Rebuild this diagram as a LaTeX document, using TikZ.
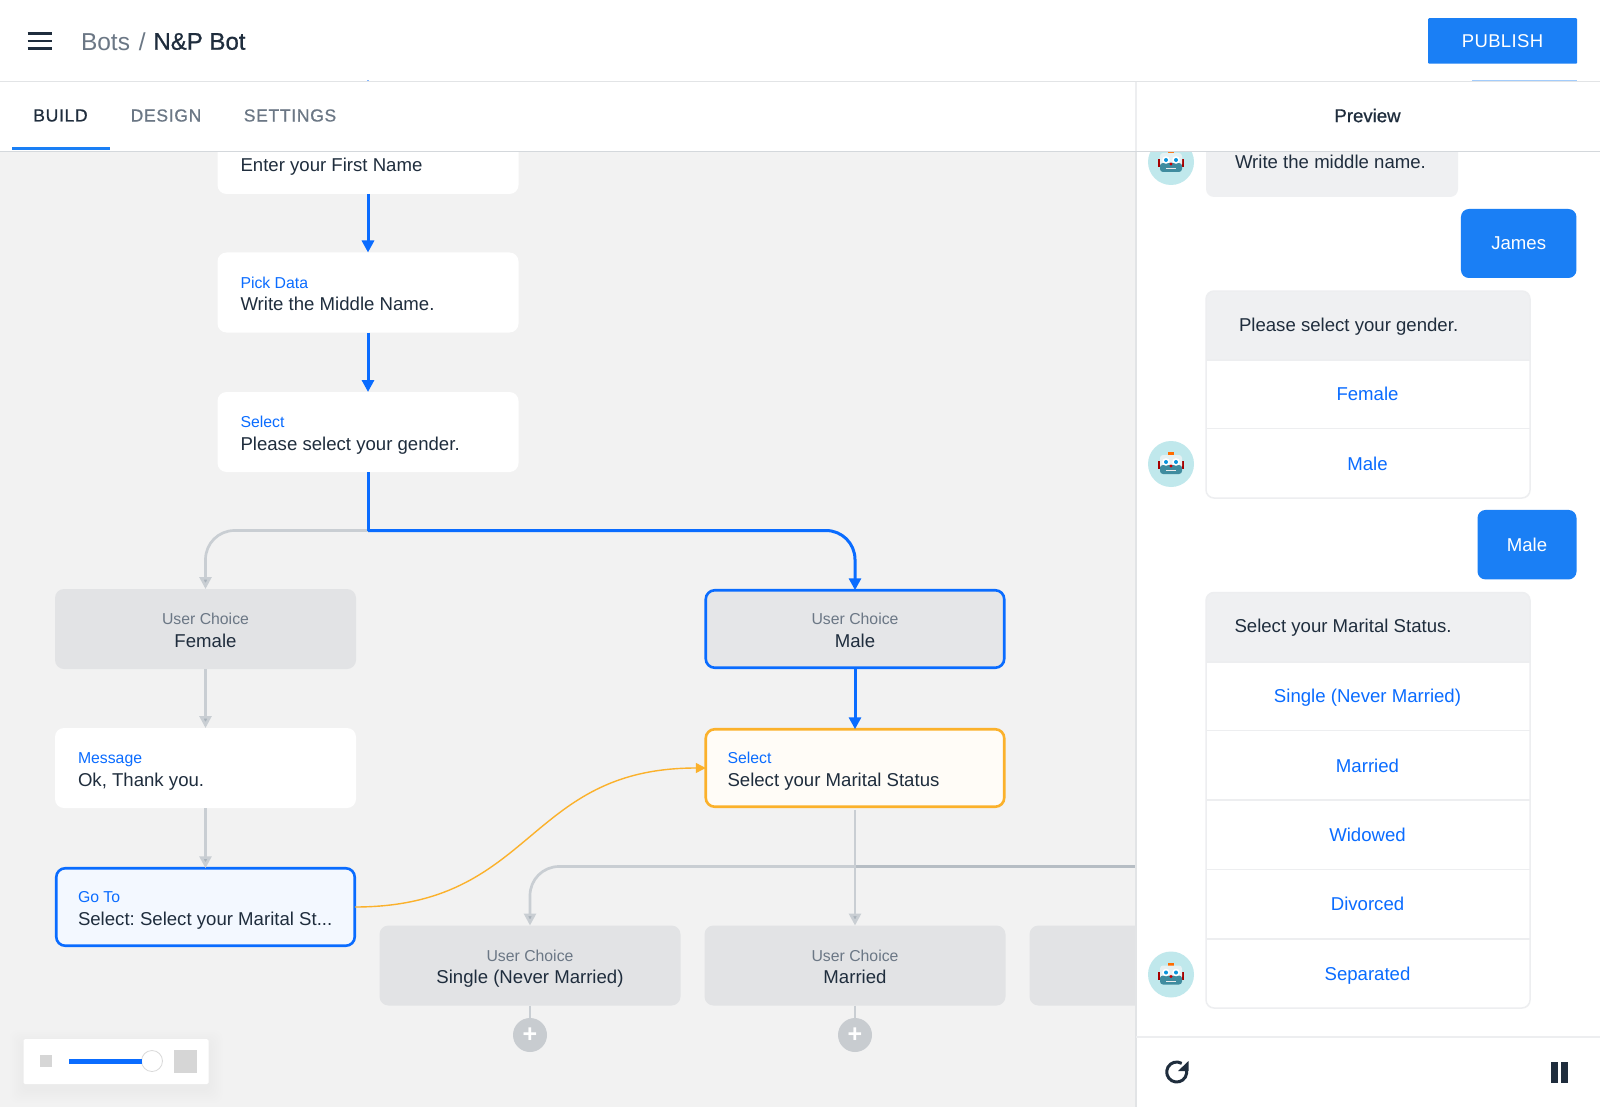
\documentclass[tikz,border=0pt]{standalone}
\usepackage{fontspec}
\setmainfont{Liberation Sans}
\usetikzlibrary{arrows.meta}
\definecolor{inkdark}{HTML}{1F2D3D}
\definecolor{inkgray}{HTML}{6B7785}
\definecolor{flowblue}{HTML}{0A6CFF}
\definecolor{btnblue}{HTML}{1A7FF5}
\definecolor{flowamber}{HTML}{FBB12B}
\definecolor{edgegray}{HTML}{C9CED3}
\definecolor{tipgray}{HTML}{A9B2BA}
\definecolor{edgedark}{HTML}{B6BDC4}
\definecolor{canvasgray}{HTML}{F2F2F2}
\definecolor{choicegray}{HTML}{E2E3E5}
\definecolor{rulegray}{HTML}{E2E4E6}
\definecolor{cardrule}{HTML}{EDEEF0}
\definecolor{bubblegray}{HTML}{EFF0F2}
\definecolor{avatarteal}{HTML}{C0E8EC}
\definecolor{plusgray}{HTML}{C8CCD0}
\definecolor{zoomgray}{HTML}{D6D6D6}
\definecolor{robothead}{HTML}{E6F1F3}
\definecolor{robotjaw}{HTML}{3F8C9F}
\newcommand{\kindtxt}[2]{{\fontsize{15.8}{22.5}\selectfont\color{#1}#2}}
\newcommand{\mediumfont}{\addfontfeature{FakeBold=0.8}}
\tikzset{robotface/.pic={
	\fill [orange!85!red] (-3,-12) rectangle (3,-7);
	\fill [red!65!black] (-13,-3) rectangle (13,5);
	\fill [rounded corners=3pt,robothead] (-11,-9) rectangle (11,5);
	\fill [rounded corners=3pt,robotjaw] (-11,1) rectangle (11,10);
	\fill [white] (-5,-2) circle (3.8);
	\fill [white] (5,-2) circle (3.8);
	\fill [cyan!80!blue] (-5,-2) circle (2);
	\fill [cyan!80!blue] (5,-2) circle (2);
	\fill [red!80!black] (0,2) circle (1.6);
	\fill [black!8] (-5,6) rectangle (5,7.2);
}}
\frenchspacing
\begin{document}
\begin{tikzpicture}[x=1pt,y=-1pt]
	\tikzstyle{every node}+=[inner sep=0pt,outer sep=0pt,text=inkdark,font=\fontsize{18.6}{22.5}\selectfont]
	\tikzstyle{flowbox}=[rectangle,rounded corners=9pt,fill=white,minimum width=301pt,minimum height=80pt,text width=255pt,align=flush left,text height=19.1pt,text depth=27.5pt]
	\tikzstyle{choicebox}=[rectangle,rounded corners=9pt,fill=choicegray,minimum width=301pt,minimum height=80pt,text width=255pt,align=flush center,text height=19.1pt,text depth=27.5pt]
	\tikzstyle{blueedge}=[draw=flowblue,line width=3pt,-{Triangle[width=12pt,length=12pt,fill=flowblue]}]
	\tikzstyle{grayedge}=[draw=edgegray,line width=2.7pt,-{Triangle[width=12pt,length=12pt,fill=tipgray]}]
	\tikzstyle{plusdot}=[circle,fill=plusgray,minimum size=34pt,text=white,font=\fontsize{25}{25}\selectfont\bfseries]
	\tikzstyle{avatar}=[circle,fill=avatarteal,minimum size=46pt]
	\tikzstyle{paneltxt}=[text height=18pt,text depth=5pt]
	\tikzstyle{optlabel}=[paneltxt,text=flowblue]
	\tikzstyle{tablabel}=[font=\fontsize{17.5}{22}\selectfont\mediumfont\addfontfeature{LetterSpace=4}]
	\useasboundingbox (0,0) rectangle (1600,1107);
	\fill [canvasgray] (0,0) rectangle (1600,1107);
	% left column, top of the flow
	\node [flowbox,minimum height=57pt,text height=18pt,text depth=5pt] (firstname) at (368,165.5) {Enter your First Name};
	\node [flowbox] (pickdata) at (368,292.5) {\kindtxt{flowblue}{Pick Data}\\Write the Middle Name.};
	\node [flowbox] (gender) at (368,432) {\kindtxt{flowblue}{Select}\\Please select your gender.};
	\coordinate (genderjoin) at (368,530.5);
	% choices
	\node [choicebox] (female) at (205.5,629) {\kindtxt{inkgray}{User Choice}\\Female};
	\node [choicebox,draw=flowblue,line width=2.6pt,fill=choicegray!90!white,minimum width=298.5pt,minimum height=77.5pt] (male) at (855,629) {\kindtxt{inkgray}{User Choice}\\Male};
	\node [flowbox] (thanks) at (205.5,768) {\kindtxt{flowblue}{Message}\\Ok, Thank you.};
	\node [flowbox,draw=flowamber,line width=2.6pt,fill=flowamber!4,minimum width=298.5pt,minimum height=77.5pt] (marital) at (855,768) {\kindtxt{flowblue}{Select}\\Select your Marital Status};
	\node [flowbox,draw=flowblue,line width=2.6pt,fill=flowblue!5,minimum width=298.5pt,minimum height=77.5pt] (goto) at (205.5,907) {\kindtxt{flowblue}{Go To}\\Select: Select your Marital St...};
	\node [choicebox] (single) at (530,965.5) {\kindtxt{inkgray}{User Choice}\\Single (Never Married)};
	\node [choicebox] (married) at (855,965.5) {\kindtxt{inkgray}{User Choice}\\Married};
	\node [choicebox] (widowed) at (1180,965.5) {};
	\node [plusdot] (singleadd) at (530,1035) {+};
	\node [plusdot] (marriedadd) at (855,1035) {+};
	\coordinate (maritaljoin) at (855,866.5);
	\coordinate (canvasedge) at (1136,866.5);
	% connectors
	\draw [blueedge] (firstname.south) -- (pickdata.north);
	\draw [blueedge] (pickdata.south) -- (gender.north);
	\draw [grayedge,rounded corners=29pt] (genderjoin) -| (female.north);
	\draw [blueedge,-] (gender.south) -- (genderjoin);
	\draw [blueedge,rounded corners=29pt] (genderjoin) -| (male.north);
	\draw [blueedge] (male.south) -- (marital.north);
	\draw [grayedge] (female.south) -- (thanks.north);
	\draw [grayedge] (thanks.south) -- (goto.north);
	\draw [draw=flowamber,line width=1.4pt,-{Triangle[width=10pt,length=10pt,fill=flowamber]}] (goto.east) .. controls (535,907) and (525,768) .. (marital.west);
	\draw [draw=edgedark,line width=2.7pt] (maritaljoin) -- (canvasedge);
	\draw [grayedge,rounded corners=29pt] (maritaljoin) -| (single.north);
	\draw [grayedge,shorten <=3pt] (marital.south) -- (married.north);
	\draw [draw=edgegray,line width=2.7pt] (single.south) -- (singleadd.north);
	\draw [draw=edgegray,line width=2.7pt] (married.south) -- (marriedadd.north);
	% zoom control
	\foreach \spread in {2,4,...,14}
		\fill [black,opacity=0.005,rounded corners=8pt] (23.5-\spread,1039-\spread+5) rectangle (208.5+\spread,1084+\spread+5);
	\node [rectangle,rounded corners=1.5pt,fill=white,minimum width=185pt,minimum height=45pt] (zoombox) at (116,1061.5) {};
	\node [rectangle,fill=zoomgray,minimum size=12pt] (zoomsmall) at (46,1061) {};
	\node [rectangle,fill=zoomgray,minimum size=23pt] (zoomlarge) at (185,1061.5) {};
	\coordinate (trackstart) at (69,1061);
	\node [circle,draw=black!15,line width=0.8pt,fill=white,minimum size=21pt] (zoomknob) at (152,1061) {};
	\draw [draw=flowblue,line width=5pt] (trackstart) -- (zoomknob.west);
	% preview panel
	\fill [white] (1136,152) rectangle (1600,1107);
	\draw [rulegray,line width=1.2pt] (1136,152) -- (1136,1107);
	\node [avatar] (avatartop) at (1171,162) {};
	\pic at (avatartop) {robotface};
	\node [rectangle,rounded corners=8pt,fill=bubblegray,minimum width=252pt,minimum height=70pt] (bubblemiddle) at (1332,162) {};
	\node [paneltxt,anchor=west] (middletxt) at (1235,162.5) {Write the middle name.};
	\node [paneltxt,rectangle,rounded corners=8pt,fill=btnblue,minimum width=115.5pt,minimum height=69pt,text=white] (james) at (1518.7,243.5) {James};
	\node [paneltxt,rectangle,rounded corners=8pt,fill=btnblue,minimum width=99pt,minimum height=69.5pt,text=white] (malereply) at (1527,544.7) {Male};
	% gender card
	\begin{scope}
		\clip [rounded corners=8pt] (1206,291) rectangle (1530,498);
		\fill [bubblegray] (1206,291) rectangle (1530,360);
	\end{scope}
	\draw [cardrule,line width=1.5pt,rounded corners=8pt] (1206,291) rectangle (1530,498);
	\draw [cardrule,line width=1.5pt] (1206,360) -- (1530,360);
	\draw [cardrule,line width=1.5pt] (1206,428.6) -- (1530,428.6);
	\node [paneltxt,anchor=west] (gendertxt) at (1239,324.5) {Please select your gender.};
	\node [optlabel] (optfemale) at (1367.5,394) {Female};
	\node [optlabel] (optmale) at (1367.5,463.5) {Male};
	\node [avatar] (avatarmid) at (1171,464) {};
	\pic at (avatarmid) {robotface};
	% marital card
	\begin{scope}
		\clip [rounded corners=8pt] (1206,592.5) rectangle (1530,1008);
		\fill [bubblegray] (1206,592.5) rectangle (1530,662);
	\end{scope}
	\draw [cardrule,line width=1.5pt,rounded corners=8pt] (1206,592.5) rectangle (1530,1008);
	\foreach \sepy in {662,730.6,800,869.4,939}
		\draw [cardrule,line width=1.5pt] (1206,\sepy) -- (1530,\sepy);
	\node [paneltxt,anchor=west] (maritaltxt) at (1234.5,625.5) {Select your Marital Status.};
	\node [optlabel] (optsingle) at (1367.5,695.5) {Single (Never Married)};
	\node [optlabel] (optmarried) at (1367.5,765.5) {Married};
	\node [optlabel] (optwidowed) at (1367.5,835) {Widowed};
	\node [optlabel] (optdivorced) at (1367.5,904) {Divorced};
	\node [optlabel] (optseparated) at (1367.5,974) {Separated};
	\node [avatar] (avatarlow) at (1171,974.5) {};
	\pic at (avatarlow) {robotface};
	% footer of the preview
	\fill [white] (1137,1037) rectangle (1600,1107);
	\draw [cardrule,line width=1.5pt] (1136,1037) -- (1600,1037);
	\draw [inkdark,line width=3pt] ([shift={(-60:10)}]1176.7,1072) arc (-60:-375:10);
	\fill [inkdark] (1188.5,1061) -- (1188.5,1071) -- (1178,1071) -- cycle;
	\fill [inkdark] (1551,1062) rectangle (1558,1083);
	\fill [inkdark] (1561,1062) rectangle (1568,1083);
	% top bars
	\fill [white] (0,0) rectangle (1600,151.5);
	\draw [edgegray!80,line width=1.2pt] (0,151.5) -- (1600,151.5);
	\draw [rulegray,line width=1.4pt] (0,81.5) -- (1600,81.5);
	\draw [btnblue!40,line width=1pt] (1472,81) -- (1577,81);
	\draw [flowblue!50,line width=1pt] (367,81) -- (369,81);
	\draw [cardrule,line width=1.2pt] (1136,82) -- (1136,151);
	\foreach \bary in {33.5,41,48.5}
		\draw [inkdark,line width=2.6pt] (27.5,\bary) -- (52,\bary);
	\node [anchor=west,text=inkgray,font=\fontsize{24.5}{28}\selectfont] (crumb) at (81,41.5) {Bots\hspace{2pt} /};
	\node [anchor=west,font=\fontsize{24}{28}\selectfont\mediumfont] (botname) at (153.5,41.5) {N\&P Bot};
	\node [rectangle,rounded corners=1pt,fill=btnblue,minimum width=149pt,minimum height=45.5pt,text=white,font=\fontsize{18.5}{22}\selectfont\addfontfeature{LetterSpace=2}] (publish) at (1502.5,41) {PUBLISH};
	\node [tablabel] (tabbuild) at (60.5,115.5) {BUILD};
	\node [tablabel,text=inkgray] (tabdesign) at (166,115.5) {DESIGN};
	\node [tablabel,text=inkgray] (tabsettings) at (290,115.5) {SETTINGS};
	\fill [btnblue] (12,147.5) rectangle (110,150.5);
	\node [font=\fontsize{18.6}{22}\selectfont\mediumfont] (previewtab) at (1367.5,115.5) {Preview};
\end{tikzpicture}
\end{document}
